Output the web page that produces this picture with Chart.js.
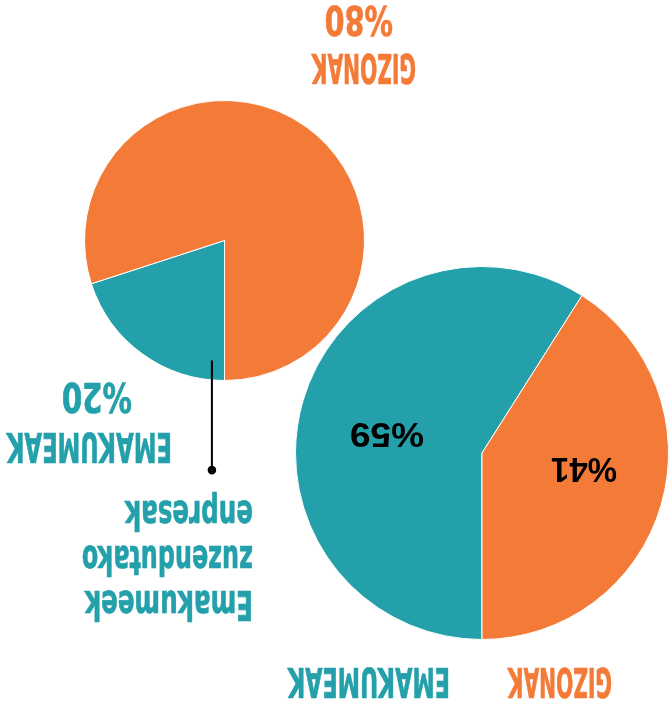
<!DOCTYPE html>
<html><head><meta charset="utf-8">
<script src="https://cdn.jsdelivr.net/npm/chart.js@4"></script>
<style>
html,body{margin:0;padding:0;background:#fff;overflow:hidden;}
#wrap{position:relative;width:671px;height:707px;overflow:hidden;transform:rotate(180deg);background:#fff;}
canvas{position:absolute;left:0;top:0;}
.t{position:absolute;white-space:nowrap;font-weight:bold;line-height:1;transform-origin:0 0;}
.nar{font-family:"Liberation Sans Narrow","DejaVu Sans Condensed",sans-serif;-webkit-text-stroke:0.7px currentColor;}
.reg{font-family:"Liberation Sans",Arial,sans-serif;}
</style></head><body>
<div id="wrap">
<canvas id="big" width="671" height="707"></canvas>
<canvas id="small" width="671" height="707"></canvas>
</div>
<script>
// ---- data ----
const categories = ['EMAKUMEAK', 'GIZONAK'];
const overallValues = [59, 41];          // big pie: all companies
const companyValues = [20, 80];          // small pie: women-led companies
const companyTitle = ['Emakumeek', 'zuzendutako', 'enpresak'];
const pctPrefix = '%';

// ---- styles ----
const TEAL = '#23A0AA', ORANGE = '#F47B37';
const sliceColors = [TEAL, ORANGE];
const wrap = document.getElementById('wrap');

function addText(str, cls, color, size, left, baseline, width) {
  const el = document.createElement('div');
  el.className = 't ' + cls;
  el.textContent = str;
  el.style.color = color;
  el.style.fontSize = size + 'px';
  wrap.appendChild(el);
  const nat = el.offsetWidth;
  const sx = width / nat;
  el.style.left = left + 'px';
  el.style.top = (baseline - 0.8465 * size) + 'px';
  el.style.transform = 'scaleX(' + sx + ')';
  return el;
}
function addCentered(str, cls, color, size, cx, cy, width, capH) {
  addText(str, cls, color, size, cx - width / 2, cy + capH / 2, width);
}

function pieConfig(values, pad, extraPlugins) {
  return {
    type: 'pie',
    data: {
      labels: categories,
      datasets: [{ data: values, backgroundColor: sliceColors, borderColor: '#fff', borderWidth: 1 }]
    },
    options: {
      responsive: false, animation: false, events: [],
      layout: { padding: pad },
      plugins: { legend: { display: false }, tooltip: { enabled: false } }
    },
    plugins: extraPlugins || []
  };
}

const leaderPlugin = {
  id: 'leader',
  afterDraw(chart) {
    const arc = chart.getDatasetMeta(0).data[0];
    const r = arc.outerRadius;
    const ctx = chart.ctx;
    const x = arc.x + 0.09 * r;
    const y1 = arc.y - 0.857 * r, y2 = arc.y - 1.64 * r;
    ctx.save();
    ctx.strokeStyle = '#000'; ctx.lineWidth = 2;
    ctx.beginPath(); ctx.moveTo(x, y1); ctx.lineTo(x, y2); ctx.stroke();
    ctx.fillStyle = '#000';
    ctx.beginPath(); ctx.arc(x, y2, 4.3, 0, Math.PI * 2); ctx.fill();
    ctx.restore();
  }
};

const bigChart = new Chart(document.getElementById('big'),
  pieConfig(overallValues, { left: 2, top: 67, right: 295, bottom: 266 }));
const smallChart = new Chart(document.getElementById('small'),
  pieConfig(companyValues, { left: 306, top: 326, right: 84, bottom: 100 }, [leaderPlugin]));

// percentage labels inside big pie
const bigMeta = bigChart.getDatasetMeta(0);
const bigWidths = [74, 66];
bigMeta.data.forEach((arc, i) => {
  const mid = (arc.startAngle + arc.endAngle) / 2 - 6 * Math.PI / 180;
  const d = arc.outerRadius * (i === 0 ? 0.515 : 0.555);
  const cx = arc.x + Math.cos(mid) * d, cy = arc.y + Math.sin(mid) * d;
  addCentered(pctPrefix + overallValues[i], 'reg', '#000', 35, cx, cy, bigWidths[i], 25);
});

// big pie legend (top)
addText(categories[1], 'nar', ORANGE, 41, 59, 40, 104);
addText(categories[0], 'nar', TEAL, 41, 221, 40, 162);

// small pie labels
addText(categories[1], 'nar', ORANGE, 41, 255, 654, 104);
addText(pctPrefix + companyValues[1], 'nar', ORANGE, 41, 278, 702, 68);
addText(categories[0], 'nar', TEAL, 41, 499, 275, 165);
addText(pctPrefix + companyValues[0], 'nar', TEAL, 41, 539, 325, 70);

// small pie title
const titleWidths = [168, 171, 128];
companyTitle.forEach((s, i) => addText(s, 'nar', TEAL, 41, 418, 117 + 45 * i, titleWidths[i]));
</script>
</body></html>
